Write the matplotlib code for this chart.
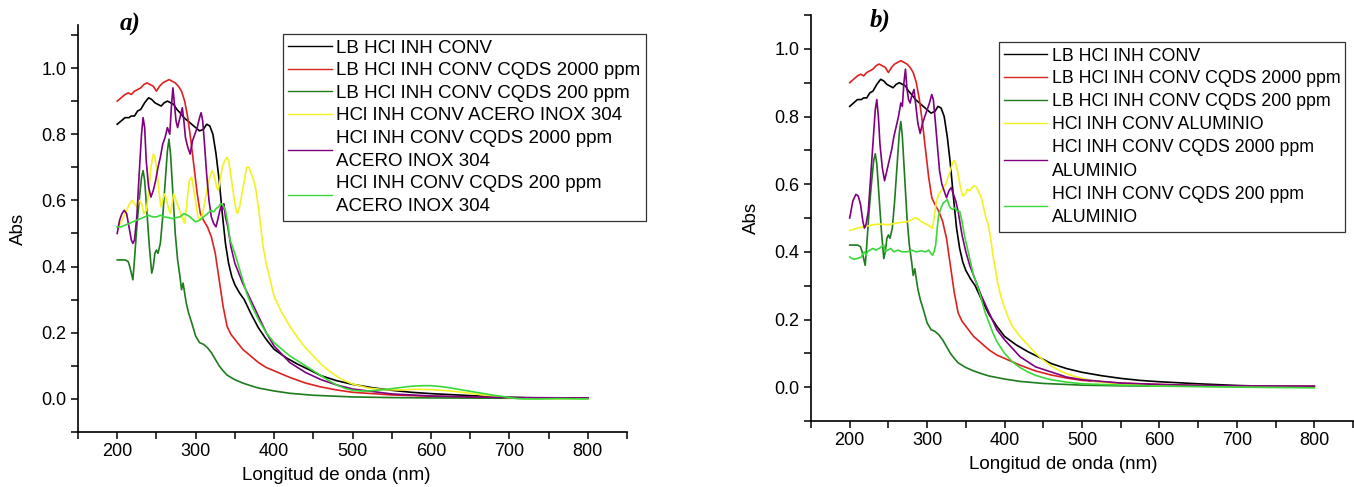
import matplotlib
matplotlib.use("Agg")
import matplotlib.pyplot as plt
from matplotlib.ticker import MultipleLocator

plt.rcParams['font.family'] = ['Liberation Sans', 'DejaVu Sans']

# ---------------- shared LB spectra ----------------
bk_x = [200,205,210,215,218,222,226,230,235,240,244,248,252,256,260,264,268,272,276,280,
        285,290,295,300,305,310,314,318,322,326,330,334,338,342,346,350,356,362,370,380,
        390,400,415,430,445,460,480,500,525,550,575,600,650,700,750,800]
bk_y = [0.83,0.84,0.85,0.85,0.855,0.855,0.87,0.875,0.895,0.91,0.905,0.895,0.89,0.885,0.895,0.90,0.895,0.89,0.875,0.865,
        0.85,0.84,0.83,0.82,0.81,0.815,0.83,0.825,0.80,0.74,0.66,0.56,0.47,0.41,0.37,0.345,0.32,0.30,0.26,0.215,
        0.18,0.15,0.125,0.105,0.088,0.07,0.055,0.044,0.034,0.026,0.02,0.016,0.01,0.005,0.002,0.002]

rd_x = [200,205,210,214,218,222,226,230,234,238,242,246,250,254,258,262,266,270,274,278,
        282,286,290,294,298,302,306,310,315,320,325,330,335,340,345,350,360,370,380,390,
        400,420,440,460,480,500,550,600,650,700,750,800]
rd_y = [0.90,0.91,0.92,0.925,0.92,0.93,0.935,0.94,0.95,0.955,0.95,0.945,0.93,0.945,0.955,0.96,0.965,0.96,0.955,0.945,
        0.93,0.90,0.85,0.78,0.70,0.62,0.56,0.54,0.52,0.49,0.44,0.36,0.28,0.22,0.195,0.18,0.15,0.13,0.11,0.095,
        0.085,0.065,0.048,0.036,0.027,0.02,0.012,0.008,0.005,0.003,0.003,0.003]

dg_x = [200,205,210,214,216,218,220,222,225,228,231,233,235,238,241,244,246,248,250,252,
        255,258,261,264,266,268,271,274,277,280,282,284,286,288,291,295,300,305,310,315,
        320,325,330,335,340,345,350,360,370,380,400,420,450,500,550,600,700,800]
dg_y = [0.42,0.42,0.42,0.415,0.40,0.38,0.36,0.42,0.52,0.60,0.67,0.69,0.66,0.56,0.46,0.38,0.40,0.44,0.45,0.44,
        0.47,0.55,0.65,0.75,0.785,0.74,0.62,0.50,0.42,0.37,0.33,0.35,0.32,0.29,0.26,0.23,0.19,0.17,0.165,0.155,
        0.14,0.12,0.10,0.085,0.072,0.065,0.058,0.048,0.04,0.033,0.024,0.017,0.011,0.006,0.004,0.003,0.002,0.002]

# ---------------- panel a) ACERO INOX 304 ----------------
pa_x = [200,203,206,209,212,215,218,220,222,225,228,231,233,235,237,240,243,246,249,252,
        255,258,261,264,267,269,271,273,275,277,280,283,285,287,290,293,296,299,302,305,
        307,309,311,314,317,320,323,326,329,332,334,336,338,341,345,350,355,360,370,380,
        390,400,420,440,460,480,500,550,600,650,700,800]
pa_y = [0.50,0.54,0.56,0.57,0.56,0.52,0.48,0.47,0.48,0.55,0.68,0.80,0.85,0.82,0.72,0.64,0.61,0.63,0.66,0.70,
        0.73,0.77,0.79,0.82,0.80,0.88,0.94,0.89,0.84,0.82,0.85,0.88,0.84,0.79,0.76,0.74,0.78,0.80,0.82,0.85,
        0.865,0.84,0.78,0.68,0.60,0.55,0.53,0.52,0.55,0.58,0.57,0.59,0.55,0.52,0.46,0.41,0.38,0.35,0.30,0.25,
        0.20,0.16,0.11,0.08,0.058,0.042,0.03,0.015,0.009,0.006,0.004,0.003]

ya_x = [200,204,208,212,216,219,222,225,228,231,234,237,240,243,246,248,250,252,254,256,
        258,260,262,264,266,268,270,272,275,278,281,284,286,288,290,292,295,297,299,301,
        303,306,309,312,315,318,321,323,325,327,329,331,334,337,340,342,344,347,350,353,
        356,359,362,365,368,371,374,377,380,383,386,390,395,400,410,420,430,440,450,460,
        470,480,490,500,520,540,560,580,600,620,640,660,680,700,720,750,800]
ya_y = [0.52,0.53,0.55,0.57,0.59,0.60,0.59,0.58,0.60,0.59,0.56,0.57,0.62,0.70,0.74,0.73,0.70,0.66,0.61,0.58,
        0.60,0.62,0.61,0.59,0.57,0.56,0.59,0.62,0.60,0.58,0.56,0.54,0.53,0.57,0.62,0.66,0.67,0.64,0.61,0.58,
        0.55,0.54,0.56,0.60,0.64,0.67,0.69,0.68,0.66,0.64,0.63,0.66,0.70,0.72,0.73,0.72,0.69,0.64,0.59,0.56,
        0.58,0.62,0.66,0.70,0.70,0.68,0.66,0.63,0.58,0.52,0.46,0.41,0.36,0.31,0.26,0.22,0.185,0.155,0.13,0.105,
        0.085,0.068,0.055,0.045,0.033,0.028,0.027,0.029,0.028,0.025,0.02,0.014,0.008,0.003,0.001,0.001,0.001]

ga_x = [200,205,210,215,220,225,230,235,240,245,250,255,260,265,270,275,280,285,290,295,
        300,305,310,315,320,323,326,329,332,335,338,341,344,347,350,355,360,365,370,380,
        390,400,410,420,430,440,450,460,470,480,490,500,510,520,530,540,550,560,570,580,
        590,600,610,620,630,640,650,660,670,680,690,700,710,720,740,760,800]
ga_y = [0.52,0.52,0.525,0.53,0.535,0.54,0.545,0.55,0.555,0.55,0.55,0.555,0.55,0.548,0.545,0.548,0.55,0.56,0.555,0.545,
        0.535,0.54,0.55,0.56,0.57,0.565,0.575,0.58,0.59,0.585,0.57,0.53,0.48,0.46,0.44,0.40,0.36,0.32,0.29,0.24,
        0.20,0.17,0.15,0.13,0.115,0.10,0.085,0.07,0.055,0.042,0.032,0.026,0.024,0.024,0.026,0.028,0.031,0.034,0.037,0.039,
        0.040,0.040,0.038,0.035,0.031,0.027,0.023,0.019,0.015,0.011,0.008,0.004,0.001,0.0,0.0,0.001,0.0]

# ---------------- panel b) ALUMINIO ----------------
pb_x = [200,204,208,211,214,217,219,221,224,227,230,233,235,237,239,242,245,248,251,254,
        257,260,263,266,268,270,272,274,276,278,280,283,285,288,291,294,297,300,303,306,
        308,310,313,316,319,322,325,328,331,334,337,340,345,350,355,360,370,380,390,400,
        420,440,460,480,500,550,600,650,700,800]
pb_y = [0.50,0.55,0.57,0.565,0.54,0.49,0.47,0.48,0.52,0.62,0.72,0.82,0.85,0.80,0.72,0.65,0.61,0.64,0.67,0.70,
        0.74,0.77,0.80,0.84,0.83,0.90,0.94,0.88,0.85,0.84,0.86,0.88,0.84,0.78,0.75,0.78,0.80,0.82,0.84,0.865,
        0.85,0.80,0.72,0.64,0.60,0.58,0.56,0.58,0.59,0.57,0.55,0.52,0.45,0.40,0.36,0.33,0.27,0.22,0.17,0.14,
        0.09,0.06,0.045,0.03,0.022,0.012,0.008,0.005,0.004,0.003]

yb_x = [200,210,220,230,240,250,260,270,276,280,284,288,292,296,300,304,307,309,312,315,
        318,321,324,327,330,333,335,337,340,343,346,349,352,355,358,361,364,367,370,373,
        376,379,382,385,388,391,395,400,405,410,420,430,440,450,460,470,480,490,500,520,
        550,600,650,700,800]
yb_y = [0.463,0.47,0.475,0.48,0.482,0.48,0.485,0.488,0.49,0.495,0.50,0.498,0.49,0.485,0.48,0.475,0.47,0.50,0.55,0.57,
        0.58,0.59,0.60,0.62,0.64,0.665,0.67,0.66,0.63,0.59,0.565,0.57,0.585,0.58,0.59,0.595,0.59,0.575,0.56,0.53,
        0.50,0.48,0.44,0.39,0.35,0.31,0.27,0.235,0.205,0.18,0.15,0.125,0.10,0.08,0.063,0.05,0.04,0.032,0.026,0.016,
        0.009,0.004,0.003,0.002,0.002]

gb_x = [200,203,206,209,212,215,217,219,221,223,226,230,234,238,241,244,246,249,253,257,
        262,268,274,280,286,292,298,302,305,307,309,311,313,315,318,321,324,326,328,330,
        333,336,339,342,345,348,352,356,360,365,370,375,380,385,390,400,410,420,430,440,
        450,460,480,500,550,600,650,700,750,800]
gb_y = [0.385,0.38,0.378,0.38,0.382,0.385,0.395,0.40,0.39,0.40,0.405,0.41,0.405,0.41,0.415,0.42,0.40,0.405,0.41,0.40,
        0.405,0.40,0.40,0.405,0.40,0.403,0.40,0.405,0.395,0.39,0.40,0.42,0.47,0.51,0.53,0.545,0.55,0.555,0.54,0.53,
        0.525,0.53,0.52,0.52,0.49,0.45,0.41,0.37,0.33,0.30,0.26,0.22,0.19,0.16,0.135,0.10,0.075,0.058,0.045,0.035,
        0.028,0.022,0.015,0.01,0.006,0.003,0.002,0.0,-0.001,-0.002]

labels_a = ["LB HCl INH CONV", "LB HCl INH CONV CQDS 2000 ppm", "LB HCl INH CONV CQDS 200 ppm",
            "HCl INH CONV ACERO INOX 304", "HCl INH CONV CQDS 2000 ppm\nACERO INOX 304",
            "HCl INH CONV CQDS 200 ppm\nACERO INOX 304"]
labels_b = ["LB HCl INH CONV", "LB HCl INH CONV CQDS 2000 ppm", "LB HCl INH CONV CQDS 200 ppm",
            "HCl INH CONV ALUMINIO", "HCl INH CONV CQDS 2000 ppm\nALUMINIO",
            "HCl INH CONV CQDS 200 ppm\nALUMINIO"]
colors = ['#000000', '#dd2222', '#1e7b1e', '#f2f222', '#800080', '#3ad83a']

W, H = 1354, 487
fig = plt.figure(figsize=(W / 100, H / 100), dpi=100)


def panel(rect, series, labels, ylim, leg_anchor, leg_fs, leg_ls, leg_lsp, leg_hl,
          xlab_x, ylab_pad, tag, tag_xy):
    ax = fig.add_axes(rect)
    for (x, y), lab, c in zip(series, labels, colors):
        ax.plot(x, y, color=c, lw=1.2, label=lab)
    ax.set_xlim(150, 850)
    ax.set_ylim(*ylim)
    for s in ('top', 'right'):
        ax.spines[s].set_visible(False)
    for s in ('left', 'bottom'):
        ax.spines[s].set_linewidth(1.2)
    ax.xaxis.set_minor_locator(MultipleLocator(50))
    ax.yaxis.set_major_locator(MultipleLocator(0.2))
    ax.yaxis.set_minor_locator(MultipleLocator(0.1))
    ax.set_xticks([200, 300, 400, 500, 600, 700, 800])
    ax.tick_params(which='both', direction='out', length=5, width=1.1, labelsize=13)
    ax.tick_params(axis='x', pad=3)
    ax.yaxis.set_major_formatter(plt.FuncFormatter(lambda v, p: f"{v:.1f}"))
    ax.set_xlabel("Longitud de onda (nm)", fontsize=13.5)
    ax.xaxis.set_label_coords(xlab_x, -0.085)
    ax.set_ylabel("Abs", fontsize=13.5, labelpad=ylab_pad)
    leg = ax.legend(loc='upper left', bbox_to_anchor=leg_anchor, fontsize=leg_fs,
                    frameon=True, fancybox=False, framealpha=1, edgecolor='#333333',
                    borderpad=0.3, labelspacing=leg_lsp, handlelength=leg_hl,
                    handletextpad=0.25, borderaxespad=0)
    leg.get_frame().set_linewidth(0.9)
    for t in leg.get_texts():
        t.set_linespacing(leg_ls)
    for ln in leg.get_lines():
        ln.set_linewidth(1.0)
    fig.text(tag_xy[0] / W, 1 - tag_xy[1] / H, tag, fontsize=18, fontweight='bold',
             fontstyle='italic', family=['Liberation Serif', 'DejaVu Serif'],
             ha='center', va='center')
    return ax


series_a = [(bk_x, bk_y), (rd_x, rd_y), (dg_x, dg_y), (ya_x, ya_y), (pa_x, pa_y), (ga_x, ga_y)]
series_b = [(bk_x, bk_y), (rd_x, rd_y), (dg_x, dg_y), (yb_x, yb_y), (pb_x, pb_y), (gb_x, gb_y)]

panel([78 / W, 1 - 432 / H, 549 / W, 407 / H], series_a, labels_a, (-0.1, 1.13),
      (0.373, 0.978), 13.5, 1.47, 0.29, 2.3, 0.47, 10, "a)", (130, 24))
panel([811 / W, 1 - 421 / H, 542 / W, 406 / H], series_b, labels_b, (-0.1, 1.10),
      (0.347, 0.933), 12.8, 1.52, 0.33, 2.4, 0.465, 10, "b)", (880, 20))

fig.savefig("out.png", dpi=100)
